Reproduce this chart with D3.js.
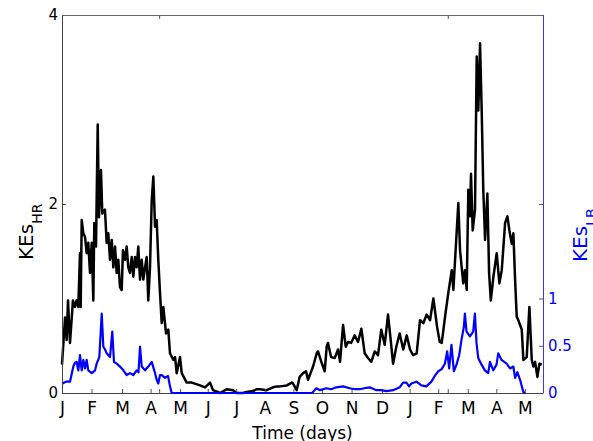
<!DOCTYPE html>
<html>
<head>
<meta charset="utf-8">
<script src="https://cdn.jsdelivr.net/npm/d3@7"></script>
<style>
  html, body { margin: 0; padding: 0; background: #fff; }
  svg { display: block; font-family: "DejaVu Sans", sans-serif; }
</style>
</head>
<body>
<svg id="chart" width="593" height="441"></svg>
<script>
// ---- data (days since start, values) ----
const hrDays = [0,3.2,4.9,6.3,8.4,11.5,13.6,15.4,17.1,18.9,
  19.6,20.7,22.4,24.2,25.9,27.6,29.4,31.2,32.9,33.9,
  35.7,37.5,38.8,40.9,42.3,45.1,46.9,48.6,50.4,52.2,
  53.9,55.7,57.4,59.1,60.9,62.7,64.0,66.2,67.9,69.6,
  71.4,73.2,74.9,76.7,78.4,80.1,81.9,83.7,85.4,87.2,
  88.9,90.6,92.4,94.2,95.9,97.7,99.4,101.1,102.9,104.7,
  106.4,109.2,111.6,113.4,116.9,118.7,120.4,123.9,125.7,130.9,
  136.2,144.9,150.2,155.4,158.6,165.9,172.9,179.6,183.4,190.0,
  193.9,200.6,204.4,207.9,214.9,221.6,225.4,228.9,236.0,241.2,
  242.6,246.4,249.5,253.1,256.2,258.3,263.6,267.4,268.8,272.3,
  275.8,277.9,279.3,282.5,286.3,289.8,291.9,295.1,297.9,300.3,
  303.5,307.3,310.8,314.3,317.8,321.3,324.8,328.3,331.8,335.2,
  338.8,342.3,344.7,347.6,351.0,354.5,358.3,361.9,365.4,368.6,
  372.4,375.9,379.4,382.9,386.4,389.9,393.8,396.6,398.7,402.2,
  405.6,409.2,410.9,412.7,416.1,417.9,421.3,423.1,424.9,426.6,
  428.4,429.4,431.2,433.6,435.4,437.1,438.9,440.7,442.3,444.2,
  446.6,448.4,450.2,452.9,456.4,459.2,461.7,465.2,467.6,469.7,
  472.2,473.9,475.7,477.4,479.1,480.9,482.7,484.4,487.9,490.7,
  493.2,494.9,496.7,499.1,501.2,503.7];
const hrValues = [0.30,0.80,0.56,0.98,0.53,0.98,0.91,0.98,0.91,1.48,
  0.91,1.83,1.69,1.65,1.48,1.59,1.27,1.59,0.98,1.80,
  1.55,2.84,1.86,2.36,1.90,1.94,1.59,1.69,1.41,1.62,
  1.33,1.55,1.27,1.41,1.12,1.09,1.51,1.41,1.55,1.33,
  1.27,1.44,1.23,1.44,1.33,1.55,1.20,1.41,1.20,1.33,
  1.44,0.98,1.33,2.04,2.29,1.76,1.83,1.41,1.06,0.74,
  0.91,0.63,0.67,0.42,0.35,0.38,0.21,0.38,0.21,0.11,
  0.11,0.08,0.06,0.11,0.03,0.00,0.04,0.03,0.00,0.00,
  0.01,0.02,0.04,0.04,0.03,0.06,0.07,0.07,0.08,0.11,
  0.10,0.03,0.17,0.21,0.23,0.14,0.28,0.42,0.44,0.33,
  0.23,0.49,0.53,0.38,0.37,0.46,0.33,0.72,0.49,0.54,
  0.53,0.61,0.54,0.68,0.42,0.37,0.33,0.44,0.40,0.67,
  0.51,0.83,0.60,0.31,0.49,0.63,0.46,0.61,0.46,0.40,
  0.42,0.77,0.74,0.83,0.77,1.00,0.70,0.54,0.53,0.81,
  1.06,1.30,1.09,1.41,2.01,1.51,1.16,1.30,1.09,2.15,
  1.87,2.32,1.72,1.94,3.56,2.99,3.70,2.96,2.15,1.62,
  2.11,1.27,0.98,1.23,1.48,1.16,1.30,1.80,1.87,1.72,
  1.58,1.69,1.20,0.81,0.77,0.72,0.67,0.35,0.38,0.91,
  0.35,0.28,0.33,0.17,0.31,0.30];

const lbDays = [0.7,4.2,8.4,11.9,13.6,15.4,17.1,18.9,20.7,22.4,
  24.2,25.9,27.6,31.2,34.7,36.4,39.2,41.7,43.4,45.2,
  46.9,50.4,52.8,54.6,57.4,60.9,64.4,67.9,71.4,74.9,
  78.4,80.3,81.9,83.7,87.2,90.6,94.2,97.7,99.4,101.1,
  102.9,104.7,108.2,111.3,113.4,115.2,262.5,267.0,270.9,277.5,
  282.5,288.0,295.1,302.1,307.7,312.6,317.1,323.1,330.0,335.0,
  340.5,347.6,354.5,358.1,361.6,364.4,366.8,372.1,377.3,382.6,
  387.8,391.4,394.9,398.4,402.0,404.4,406.5,408.9,411.4,414.2,
  417.0,419.4,421.9,423.0,424.7,428.3,431.7,433.5,435.2,437.0,
  440.5,444.0,447.5,449.3,452.8,456.2,458.0,461.5,466.8,470.4,
  473.9,475.7,478.1,480.9,484.4,486.2];
const lbValues = [0.10,0.12,0.12,0.28,0.32,0.33,0.24,0.40,0.24,0.35,
  0.26,0.35,0.24,0.21,0.24,0.31,0.38,0.84,0.49,0.46,
  0.42,0.38,0.65,0.33,0.31,0.28,0.24,0.19,0.21,0.19,
  0.24,0.22,0.49,0.28,0.24,0.28,0.33,0.21,0.14,0.10,
  0.19,0.19,0.16,0.18,0.07,0.00,0.00,0.05,0.03,0.05,
  0.04,0.06,0.07,0.05,0.04,0.04,0.05,0.06,0.03,0.03,
  0.02,0.03,0.06,0.11,0.11,0.07,0.10,0.12,0.08,0.07,
  0.12,0.18,0.23,0.25,0.31,0.44,0.26,0.51,0.23,0.30,
  0.40,0.56,0.70,0.84,0.65,0.60,0.65,0.84,0.53,0.37,
  0.30,0.24,0.21,0.33,0.24,0.30,0.42,0.35,0.31,0.26,
  0.28,0.16,0.22,0.14,0.01,0.00];

const monthTicks = [0,31,63,93,124,153,183,213,243,273,304,336,365,395,426,456,486];
const monthLabels = ["J","F","M","A","M","J","J","A","S","O","N","D","J","F","M","A","M"];
const extraTicks = [102,405];
const leftTicks = [0,2,4];
const leftTickLabels = ["0","2","4"];
const rightTicks = [0,0.5,1,2];
const rightTickLabels = ["0","0.5","1",""];
const xDomain = [0,505];
const yDomain = [0,4];

// ---- layout ----
const L = 62, R = 543, T = 15, B = 393;
const svg = d3.select("#chart");
const x = d3.scaleLinear().domain(xDomain).range([L, R]);
const yL = d3.scaleLinear().domain(yDomain).range([B, T]);
const yR = d3.scaleLinear().domain(yDomain).range([B, T]);

const tickColor = "#555";

const hrData = hrDays.map((d,i)=>({d, v: hrValues[i]}));
const lbData = lbDays.map((d,i)=>({d, v: lbValues[i]}));

svg.append("path").datum(hrData)
  .attr("fill","none").attr("stroke","#000").attr("stroke-width",2.5)
  .attr("stroke-linejoin","round")
  .attr("d", d3.line().x(p=>x(p.d)).y(p=>yL(p.v)));

// bottom axis: month ticks
const gB = svg.append("g").attr("transform",`translate(0,${B})`)
  .call(d3.axisBottom(x).tickValues(monthTicks.concat(extraTicks))
    .tickSizeInner(-4).tickSizeOuter(0).tickPadding(9)
    .tickFormat(d => { const i = monthTicks.indexOf(d); return i >= 0 ? monthLabels[i] : ""; }));
gB.select(".domain").remove();
gB.selectAll("line").attr("stroke",tickColor);
gB.selectAll("text").attr("font-size","17px").attr("fill","#000").attr("font-family","DejaVu Sans");

// top axis extra ticks
const gT = svg.append("g").attr("transform",`translate(0,${T})`)
  .call(d3.axisTop(x).tickValues(extraTicks).tickSizeInner(-4).tickSizeOuter(0).tickFormat(""));
gT.select(".domain").remove();
gT.selectAll("line").attr("stroke",tickColor);

// left axis
const gL = svg.append("g").attr("transform",`translate(${L},0)`)
  .call(d3.axisLeft(yL).tickValues(leftTicks).tickSizeInner(-4).tickSizeOuter(0).tickPadding(4)
    .tickFormat((d,i)=>leftTickLabels[i]));
gL.select(".domain").remove();
gL.selectAll("line").attr("stroke",tickColor);
gL.selectAll("text").attr("font-size","15px").attr("fill","#000").attr("font-family","DejaVu Sans");

// right axis
const gR = svg.append("g").attr("transform",`translate(${R},0)`)
  .call(d3.axisRight(yR).tickValues(rightTicks).tickSizeInner(-4).tickSizeOuter(0).tickPadding(5)
    .tickFormat((d,i)=>rightTickLabels[i]));
gR.select(".domain").remove();
gR.selectAll("line").attr("stroke",tickColor);
gR.selectAll("text").attr("font-size","15px").attr("fill","#0000ff").attr("font-family","DejaVu Sans");

// spines
svg.append("line").attr("x1",L+0.5).attr("x2",L+0.5).attr("y1",T).attr("y2",B+0.5).attr("stroke","#444");
svg.append("line").attr("x1",L).attr("x2",R).attr("y1",T+0.5).attr("y2",T+0.5).attr("stroke","#666");
svg.append("line").attr("x1",L).attr("x2",R).attr("y1",B+0.5).attr("y2",B+0.5).attr("stroke","#444");
svg.append("line").attr("x1",R+0.5).attr("x2",R+0.5).attr("y1",T).attr("y2",B+0.5).attr("stroke","#3a3ae0");

// blue series (twin axis, drawn on top)
svg.append("path").datum(lbData)
  .attr("fill","none").attr("stroke","#0000ff").attr("stroke-width",2.2)
  .attr("stroke-linejoin","round")
  .attr("d", d3.line().x(p=>x(p.d)).y(p=>yR(p.v)));

// axis labels
svg.append("text").attr("x",(L+R)/2).attr("y",439).attr("text-anchor","middle")
  .attr("font-size","17px").attr("fill","#000").text("Time (days)");

const yl = svg.append("text").attr("transform","translate(32.5,260) rotate(-90)")
  .attr("font-size","20px").attr("fill","#000");
yl.append("tspan").text("KEs");
yl.append("tspan").attr("font-size","14px").attr("dy",9).text("HR");

const yr = svg.append("text").attr("transform","translate(587,262) rotate(-90)")
  .attr("font-size","20px").attr("fill","#0000ff");
yr.append("tspan").text("KEs");
yr.append("tspan").attr("font-size","14px").attr("dy",9).text("LB");
</script>
</body>
</html>
